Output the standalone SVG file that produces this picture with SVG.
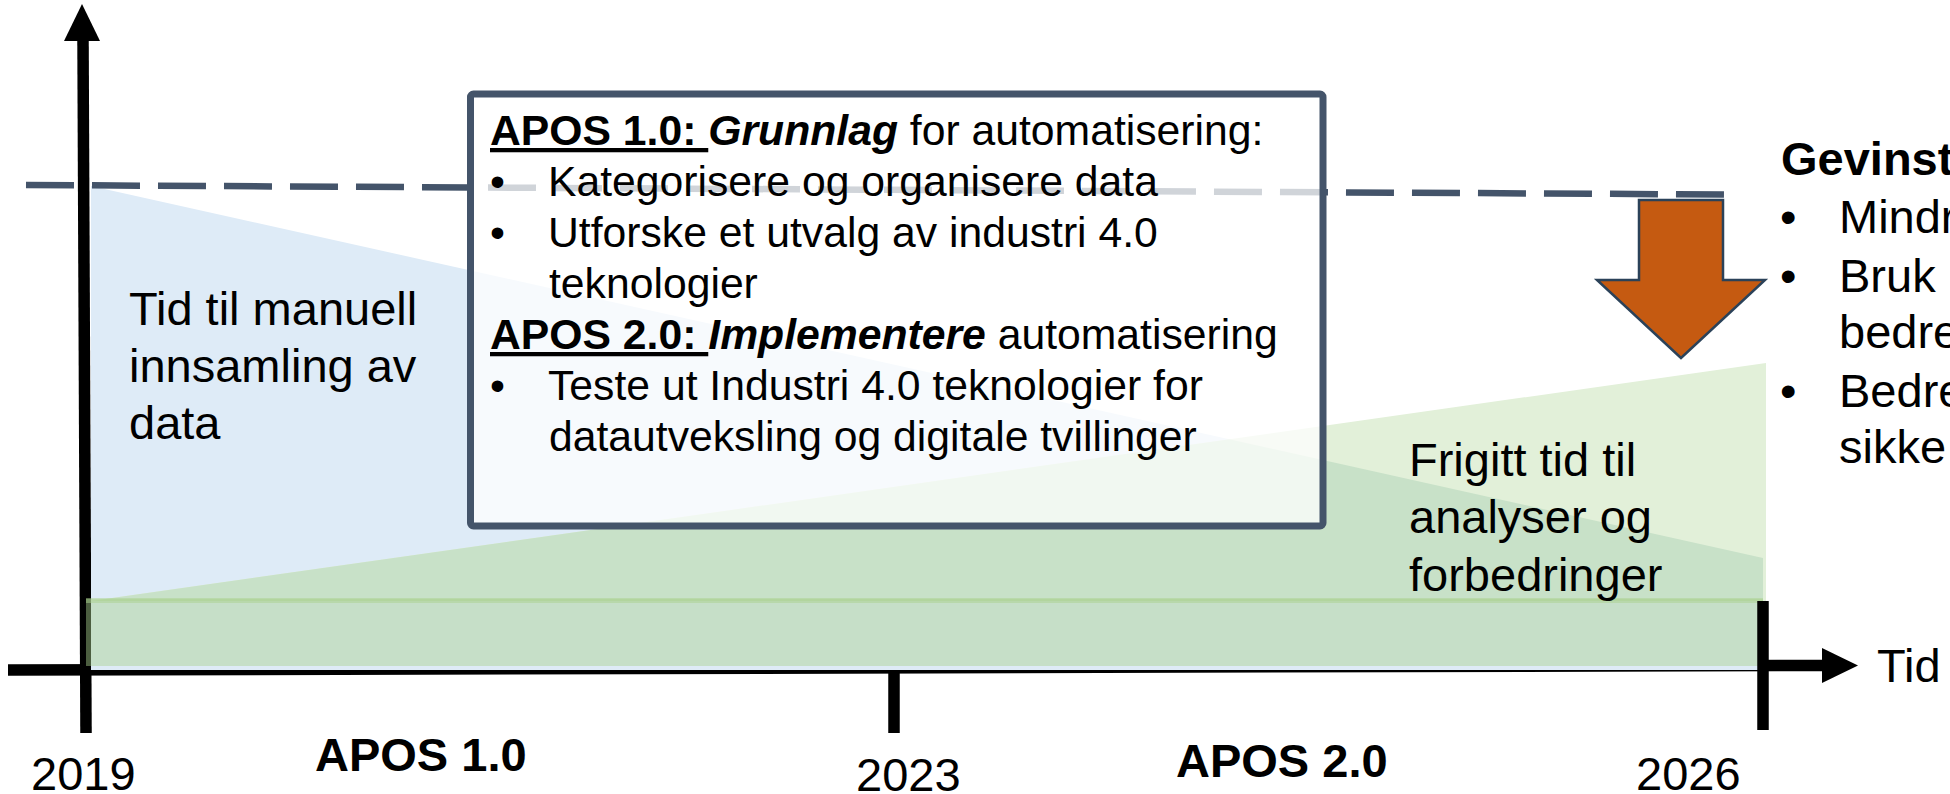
<svg xmlns="http://www.w3.org/2000/svg" width="1950" height="794" viewBox="0 0 1950 794">
<style>
text{font-family:"Liberation Sans",Arial,sans-serif;fill:#000}
.t47{font-size:47px}
.t42{font-size:42.7px}
.b{font-weight:bold}
.bi{font-weight:bold;font-style:italic}
.ax{stroke:#000;stroke-width:11.5;fill:none}
</style>
<defs>
<clipPath id="blueClip"><polygon points="91,186 1763,558 1763,670 91,670"/></clipPath>
</defs>
<rect width="1950" height="794" fill="#fff"/>
<g id="connectors">
<line class="ax" x1="83" y1="38" x2="86" y2="733"/>
<polygon points="64,41 82,4 100,41" fill="#000"/>
<line class="ax" x1="8" y1="670" x2="1824" y2="665.5"/>
<polygon points="1822,648 1858,665.5 1822,683" fill="#000"/>
</g>
<g id="areas">
<polygon id="manual-area" points="91,186 1763,558 1763,670 91,670" fill="#DEEBF7"/>
<polygon id="freed-area" points="91,601 1766,363 1766,601" fill="#E2F0D9"/>
<polygon points="91,601 1766,363 1766,601" fill="#C8E1C8" clip-path="url(#blueClip)"/>
<rect x="86" y="599" width="1677" height="67" fill="#A9D18E" fill-opacity="0.45"/>
<line x1="86" y1="600.5" x2="1763" y2="600.5" stroke="#A9D18E" stroke-opacity="0.5" stroke-width="5"/>
</g>
<g id="ticks">
<line class="ax" x1="894" y1="670" x2="894" y2="733" stroke-width="12"/>
<line class="ax" x1="1763" y1="601" x2="1763" y2="730" stroke-width="12"/>
</g>
<line id="target-line" x1="26" y1="185" x2="1724" y2="194.5" stroke="#44546A" stroke-width="6.5" stroke-dasharray="48 18"/>
<g id="arrow-down">
<polygon points="1639,200 1723,200 1723,280 1765,280 1681,358 1597,280 1639,280" fill="#C55A11" stroke="#2B4259" stroke-width="2.5" stroke-linejoin="miter"/>
</g>
<g id="apos-box">
<rect x="470.5" y="94" width="852.5" height="432" rx="3" fill="#fff" fill-opacity="0.75" stroke="#44546A" stroke-width="7"/>
<text class="t42" x="490" y="145"><tspan class="b" text-decoration="underline">APOS 1.0: </tspan><tspan class="bi">Grunnlag</tspan> for automatisering:</text>
<text class="t42" x="490" y="196">•</text>
<text class="t42" x="548" y="196">Kategorisere og organisere data</text>
<text class="t42" x="490" y="247">•</text>
<text class="t42" x="548" y="247">Utforske et utvalg av industri 4.0</text>
<text class="t42" x="549" y="298">teknologier</text>
<text class="t42" x="490" y="349"><tspan class="b" text-decoration="underline">APOS 2.0: </tspan><tspan class="bi">Implementere</tspan> automatisering</text>
<text class="t42" x="490" y="400">•</text>
<text class="t42" x="548" y="400">Teste ut Industri 4.0 teknologier for</text>
<text class="t42" x="549" y="451">datautveksling og digitale tvillinger</text>
</g>
<g id="manual-label">
<text class="t47" x="129" y="325">Tid til manuell</text>
<text class="t47" x="129" y="382">innsamling av</text>
<text class="t47" x="129" y="439">data</text>
</g>
<g id="freed-label">
<text class="t47" x="1409" y="476">Frigitt tid til</text>
<text class="t47" x="1409" y="533">analyser og</text>
<text class="t47" x="1409" y="591">forbedringer</text>
</g>
<g id="gevinst">
<text class="t47 b" x="1781" y="175">Gevinst</text>
<text class="t47" x="1780" y="233">•</text>
<text class="t47" x="1839" y="233">Mindr</text>
<text class="t47" x="1780" y="292">•</text>
<text class="t47" x="1839" y="292">Bruk</text>
<text class="t47" x="1839" y="348">bedre</text>
<text class="t47" x="1780" y="407">•</text>
<text class="t47" x="1839" y="407">Bedre</text>
<text class="t47" x="1839" y="463">sikke</text>
</g>
<g id="axis-labels">
<text class="t47" x="31" y="790">2019</text>
<text class="t47 b" x="315" y="771">APOS 1.0</text>
<text class="t47" x="856" y="791">2023</text>
<text class="t47 b" x="1176" y="777">APOS 2.0</text>
<text class="t47" x="1636" y="790">2026</text>
<text class="t47" x="1877" y="682">Tid</text>
</g>
</svg>
